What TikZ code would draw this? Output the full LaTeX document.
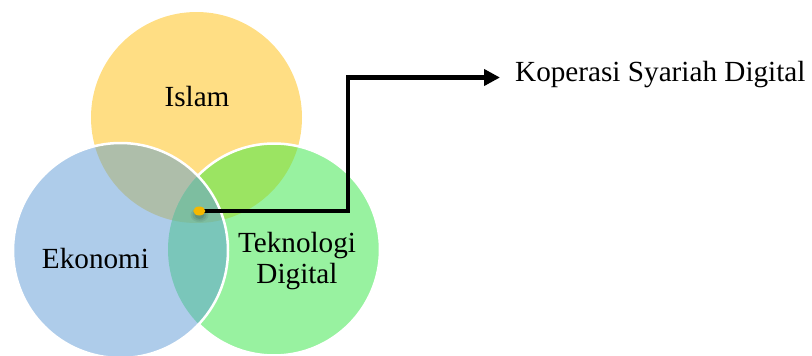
\documentclass[tikz,border=0pt]{standalone}
\usepackage{fontspec}
\setmainfont{Liberation Serif}
\usetikzlibrary{arrows.meta}
\definecolor{cIslam}{HTML}{FFDE84}
\definecolor{cEko}{HTML}{AECCEA}
\definecolor{cTek}{HTML}{98F2A0}
\definecolor{cIE}{HTML}{AEBEAA}
\definecolor{cIT}{HTML}{9BE462}
\definecolor{cET}{HTML}{7AC6BA}
\definecolor{cIET}{HTML}{7DBEA0}
\definecolor{cDot}{HTML}{F5B800}
\begin{document}
\begin{tikzpicture}[x=1pt,y=-1pt,
  lbl/.style={font=\fontsize{29.2}{31}\selectfont, inner sep=0pt, text=black},
  rim/.style={draw=white, line width=2.5pt},
  conn/.style={draw=black, line width=4.3pt, -{Triangle[length=16pt,width=16pt]}}]
\useasboundingbox (0,0) rectangle (812,356);
\def\cIs{(196.5,117.5) circle[radius=105.5pt]}
\def\cEk{(120.5,250.5) circle[radius=107.5pt]}
\def\cTe{(274,249.5) circle[radius=106pt]}
% Islam
\fill[cIslam] \cIs;
% Teknologi
\fill[cTek] \cTe;
\begin{scope}\clip \cIs; \fill[cIT] \cTe; \end{scope}
\draw[rim] \cTe;
% Ekonomi
\fill[cEko] \cEk;
\begin{scope}\clip \cEk; \fill[cIE] \cIs; \fill[cET] \cTe;
  \clip \cIs; \fill[cIET] \cTe; \end{scope}
\draw[rim] \cEk;
% labels
\node[lbl, anchor=base] (islam) at (197,106) {Islam};
\node[lbl, anchor=base] (eko) at (95.5,268) {Ekonomi};
\node[lbl, align=center] (tek) at (297,261) {Teknologi\\Digital};
\node[lbl, anchor=base west] (kop) at (515,81) {Koperasi Syariah Digital};
% connector
\coordinate (elbow) at (348,77.5);
\coordinate (tip) at (500,77.5);
\node[inner sep=0pt, minimum width=12pt, minimum height=9pt] (dot) at (199.3,211) {};
\draw[conn] (dot.center) -| (elbow) -- (tip);
\foreach \r/\o in {9/0.06,7/0.08,5/0.10}{
  \fill[black, opacity=\o] (199.5,215) ellipse[x radius=\r pt, y radius=0.8*\r pt];
}
\fill[cDot] (dot.center) ellipse[x radius=6pt, y radius=4.5pt];
\end{tikzpicture}
\end{document}
